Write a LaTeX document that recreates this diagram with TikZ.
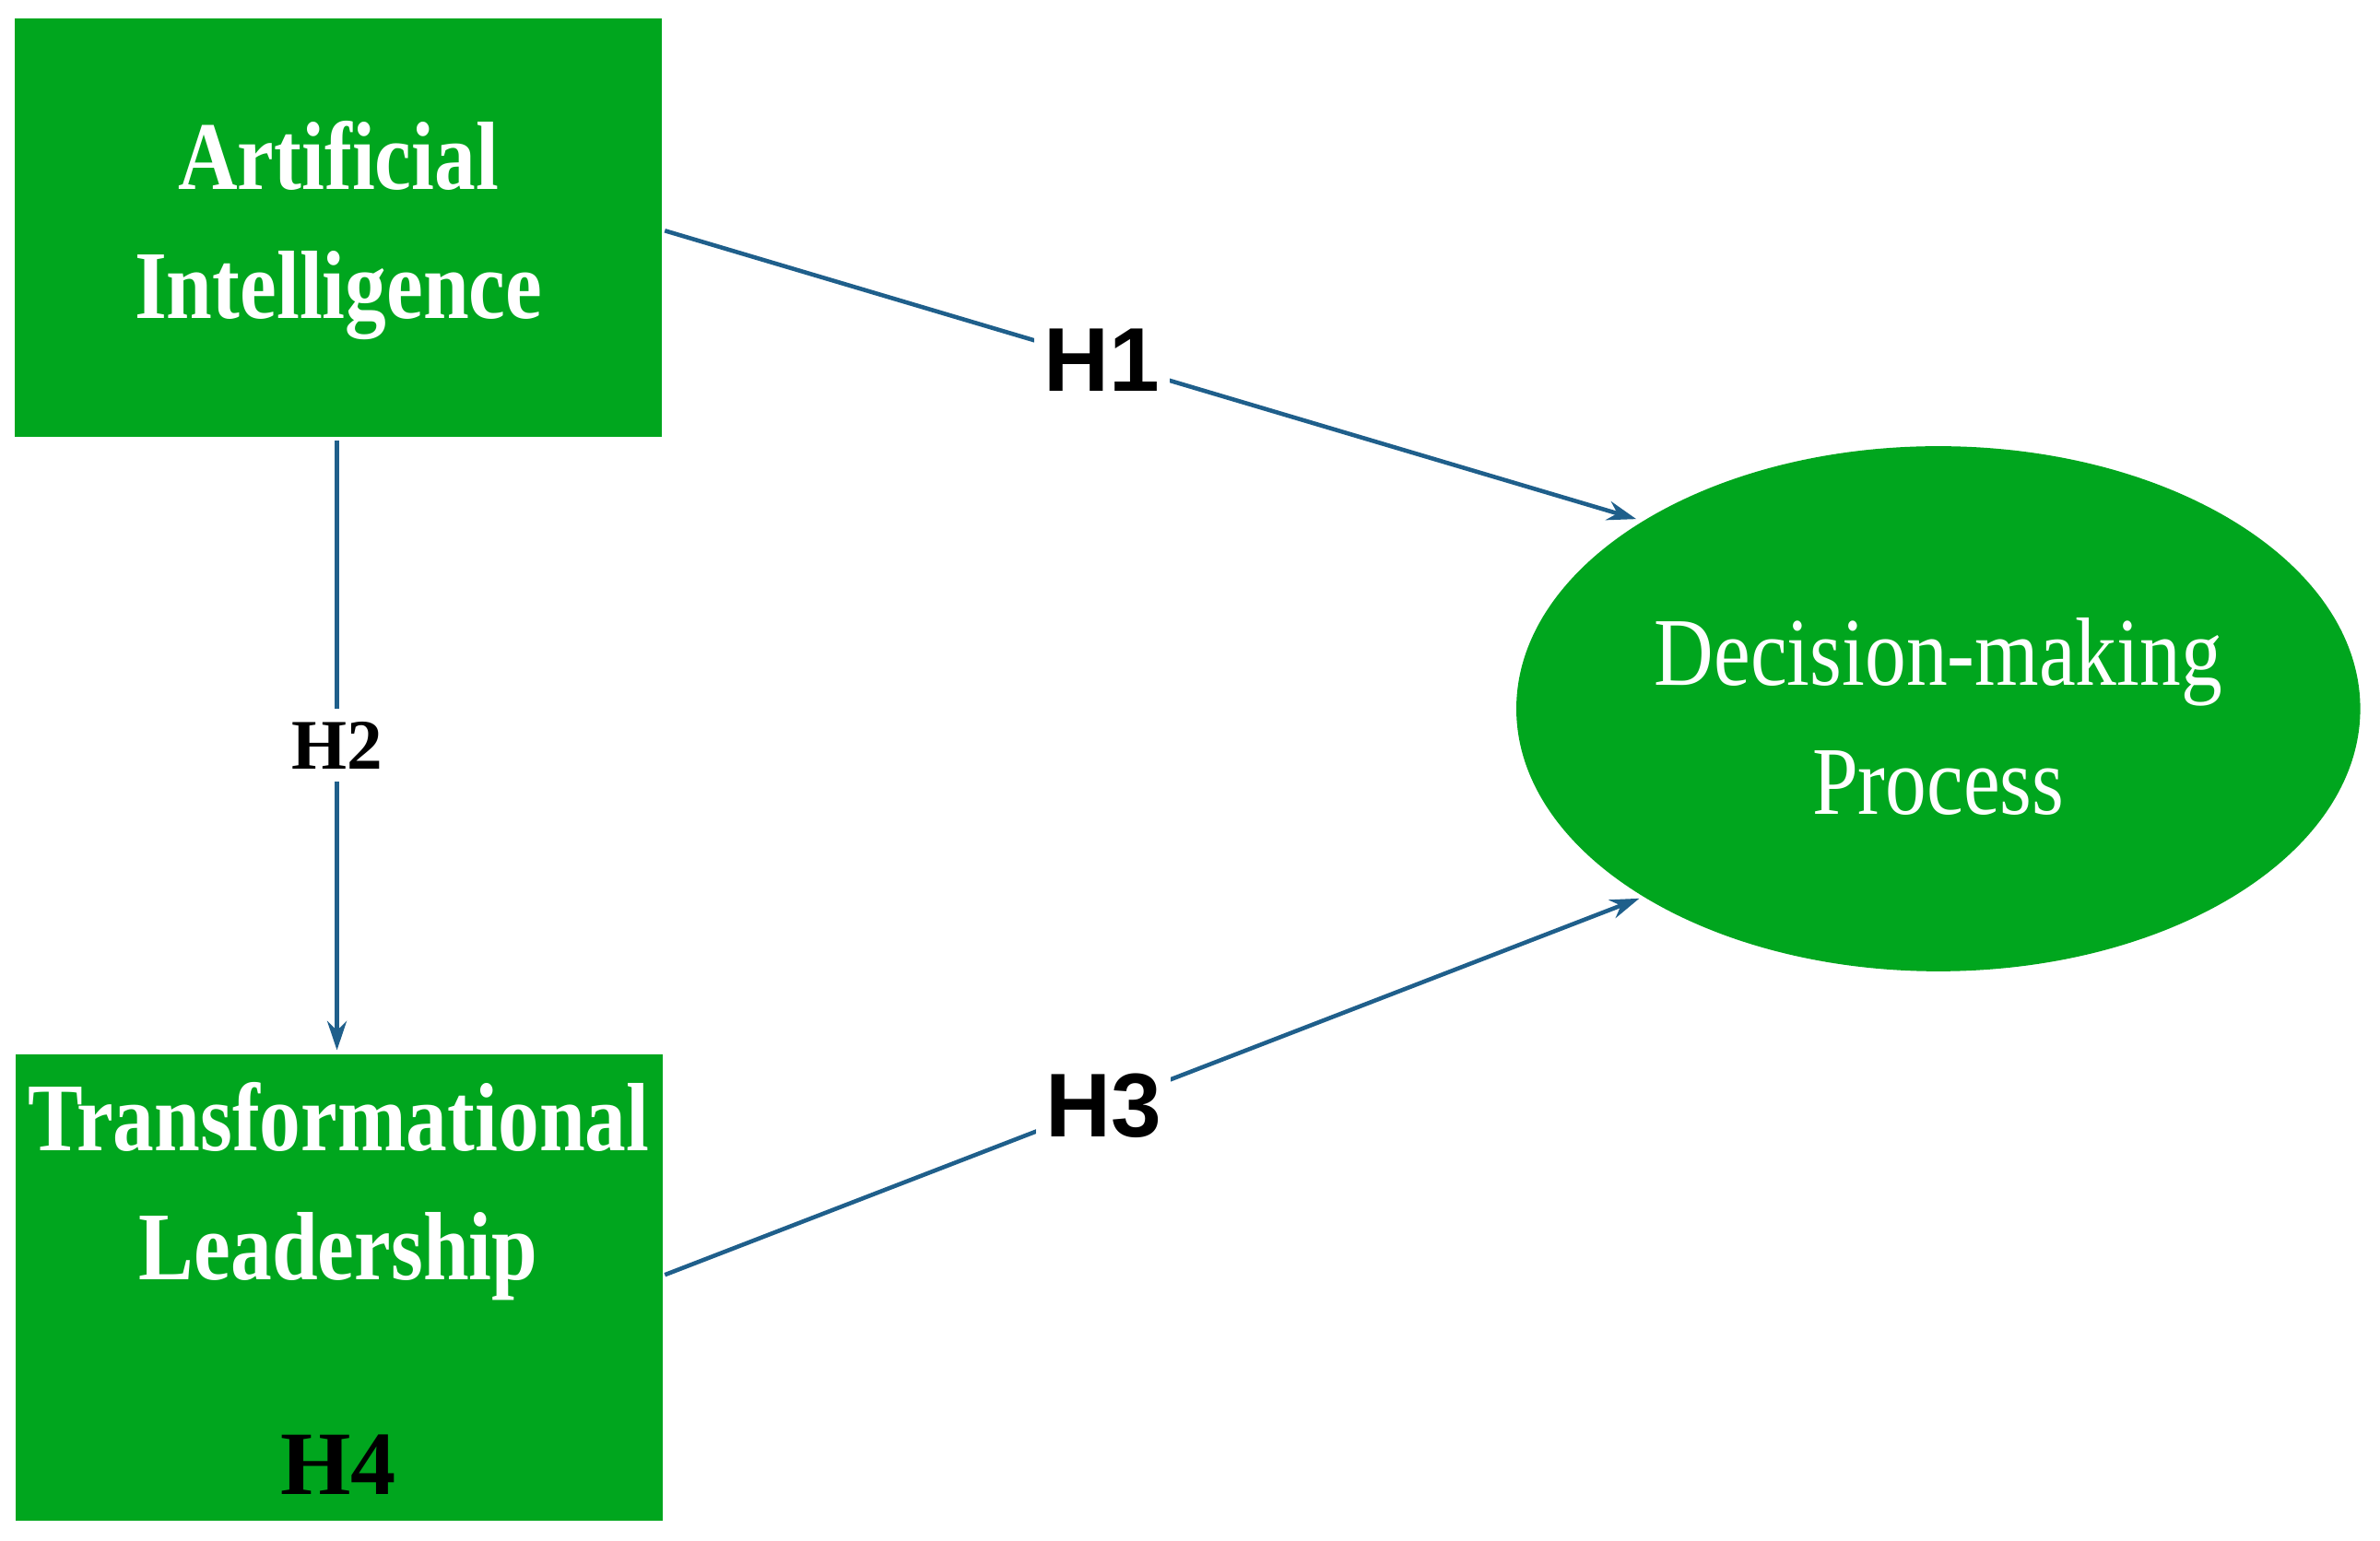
\documentclass[tikz,border=0pt]{standalone}
\usepackage{fontspec}
\setmainfont{Liberation Serif}
\newfontfamily\hsans{Liberation Sans}
\usetikzlibrary{shapes.geometric,arrows.meta}
\definecolor{boxgreen}{HTML}{00A61E}
\definecolor{arrowblue}{HTML}{1F5F8B}
\begin{document}
\begin{tikzpicture}[x=0.0165cm,y=-0.0165cm,
  box/.style={draw=none,fill=boxgreen,minimum width=426*0.0165cm,inner sep=0},
  boxtxt/.style={text=white,font=\fontsize{30}{37}\selectfont\bfseries,align=center,xscale=0.85,transform shape=false},
  arr/.style={draw=arrowblue,line width=1.3pt,-{Stealth[length=9pt,width=6pt]}},
  hlab/.style={fill=white,inner sep=3pt,font=\hsans\fontsize{28}{30}\selectfont\bfseries}]
\useasboundingbox (0,0) rectangle (1568,1015);
\fill[boxgreen] (10,12) rectangle (436,288);
\coordinate (aibox) at (223,150);
\node[box,minimum height=276*0.0165cm] (ai) at (223,150) {};
\node[text=white,font=\fontsize{30}{40}\selectfont\bfseries,align=center] at (223,152) {\scalebox{0.85}[1]{Artificial}\\\scalebox{0.85}[1]{Intelligence}};
\node[box,minimum height=307*0.0165cm] (tl) at (223.5,848.5) {};
\node[text=white,font=\fontsize{30}{40}\selectfont\bfseries,align=center] at (223,785) {\scalebox{0.85}[1]{Transformational}\\\scalebox{0.85}[1]{Leadership}};
\node[font=\fontsize{28}{30}\selectfont\bfseries] (h4) at (223,965) {H4};
\node[ellipse,fill=boxgreen,minimum width=556*0.0165cm,minimum height=346*0.0165cm,inner sep=0] (dm) at (1277,467) {};
\node[text=white,font=\fontsize{30}{40}\selectfont,align=center] at (1277,472) {\scalebox{0.85}[1]{Decision-making}\\\scalebox{0.85}[1]{Process}};
\coordinate (a1) at (438,152);
\coordinate (b1) at (1078,342);
\draw[arr] (a1) -- (b1) node[hlab,pos=0.45] {H1};
\coordinate (a2) at (222,290);
\coordinate (b2) at (222,692);
\draw[arr] (a2) -- (b2) node[fill=white,inner sep=4pt,font=\fontsize{22}{24}\selectfont\bfseries,pos=0.5] {H2};
\coordinate (a3) at (438,840);
\coordinate (b3) at (1080,592);
\draw[arr] (a3) -- (b3) node[hlab,pos=0.45] {H3};
\end{tikzpicture}
\end{document}
